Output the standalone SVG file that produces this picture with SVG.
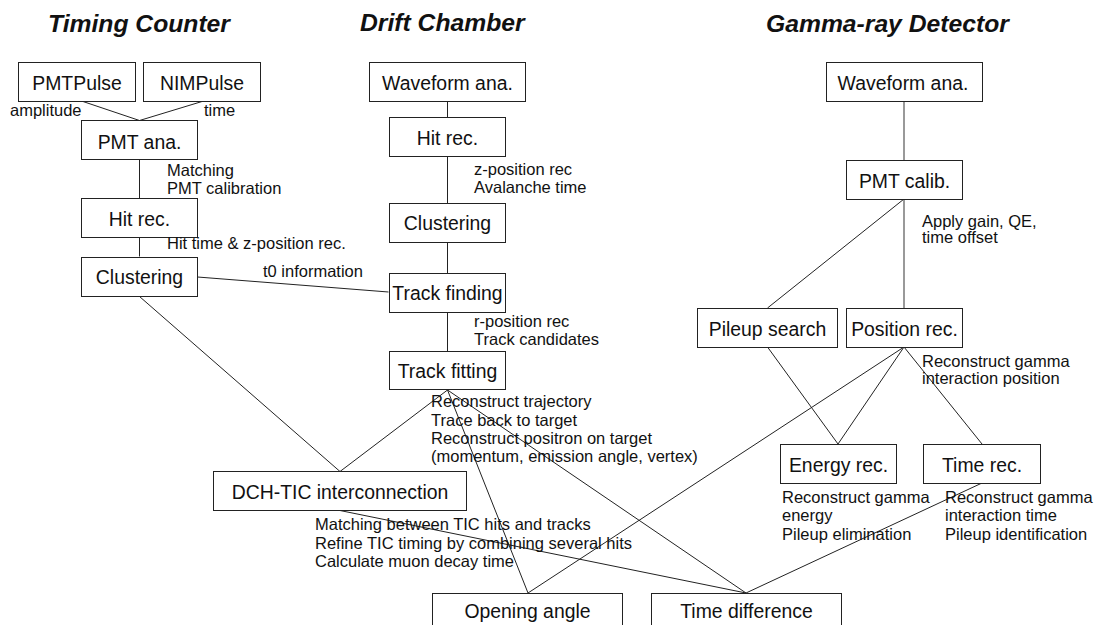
<svg xmlns="http://www.w3.org/2000/svg" width="1097" height="625" viewBox="0 0 1097 625">
  <style>
    .bg { fill: #ffffff; }
    .box { fill: #ffffff; stroke: #222222; stroke-width: 1; }
    .lbl { font-family: "Liberation Sans", Arial, sans-serif; font-size: 19.4px; fill: #111111; text-anchor: middle; }
    .note { font-family: "Liberation Sans", Arial, sans-serif; font-size: 16.5px; fill: #111111; }
    .title { font-family: "Liberation Sans", Arial, sans-serif; font-size: 24.7px; font-weight: bold; font-style: italic; fill: #111111; }
    .edge { stroke: #222222; stroke-width: 1; fill: none; }
    .edge-soft { stroke: #555555; stroke-width: 1.2; fill: none; }
  </style>
  <rect class="bg" x="0" y="0" width="1097" height="625"/>

  <!-- section headings -->
  <g id="titles">
    <text class="title" x="48" y="32">Timing Counter</text>
    <text class="title" x="360" y="31">Drift Chamber</text>
    <text class="title" x="766" y="32">Gamma-ray Detector</text>
  </g>

  <!-- connectors -->
  <g id="connectors">
    <line class="edge" x1="83" y1="101.5" x2="139.5" y2="120.5"/>
    <line class="edge" x1="202" y1="101.5" x2="139.5" y2="120.5"/>
    <line class="edge" x1="139.5" y1="159.5" x2="139.5" y2="198.5"/>
    <line class="edge" x1="139.5" y1="237.5" x2="139.5" y2="256.5"/>
    <line class="edge" x1="197.5" y1="277" x2="388.5" y2="292"/>
    <line class="edge" x1="139.5" y1="296.5" x2="340" y2="471.5"/>
    <line class="edge" x1="447.5" y1="101.5" x2="447.5" y2="117.5"/>
    <line class="edge" x1="447.5" y1="156.5" x2="447.5" y2="203.5"/>
    <line class="edge" x1="447.5" y1="242.5" x2="447.5" y2="273.5"/>
    <line class="edge" x1="447.5" y1="312.5" x2="447.5" y2="351.5"/>
    <line class="edge" x1="447.5" y1="390" x2="340" y2="471.5"/>
    <line class="edge" x1="447.5" y1="390" x2="528" y2="593"/>
    <line class="edge" x1="447.5" y1="390" x2="746" y2="593"/>
    <line class="edge" x1="340" y1="510.5" x2="746" y2="593"/>
    <line class="edge-soft" x1="904" y1="101.5" x2="904" y2="160"/>
    <line class="edge-soft" x1="904" y1="199" x2="904" y2="308"/>
    <line class="edge" x1="904" y1="199" x2="767.5" y2="308"/>
    <line class="edge" x1="767.5" y1="347" x2="838" y2="444"/>
    <line class="edge" x1="904" y1="347" x2="838" y2="444"/>
    <line class="edge" x1="904" y1="347" x2="982" y2="444"/>
    <line class="edge" x1="904" y1="347" x2="528" y2="593"/>
    <line class="edge" x1="982" y1="483" x2="746" y2="593"/>
  </g>

  <!-- Timing Counter chain -->
  <g id="tc-pmtpulse">
    <rect class="box" x="18.5" y="62.5" width="117" height="39"/>
    <text class="lbl" x="77" y="90">PMTPulse</text>
  </g>
  <g id="tc-nimpulse">
    <rect class="box" x="143.5" y="62.5" width="117" height="39"/>
    <text class="lbl" x="202" y="90">NIMPulse</text>
  </g>
  <g id="tc-pmt-ana">
    <rect class="box" x="81.5" y="120.5" width="116" height="39"/>
    <text class="lbl" x="139.5" y="149">PMT ana.</text>
  </g>
  <g id="tc-hit-rec">
    <rect class="box" x="81.5" y="198.5" width="116" height="39"/>
    <text class="lbl" x="139.5" y="226">Hit rec.</text>
  </g>
  <g id="tc-clustering">
    <rect class="box" x="81.5" y="257.5" width="116" height="39"/>
    <text class="lbl" x="139.5" y="284">Clustering</text>
  </g>

  <!-- Drift Chamber chain -->
  <g id="dc-waveform">
    <rect class="box" x="369.5" y="62.5" width="156" height="39"/>
    <text class="lbl" x="447.5" y="90">Waveform ana.</text>
  </g>
  <g id="dc-hit-rec">
    <rect class="box" x="389.5" y="117.5" width="116" height="39"/>
    <text class="lbl" x="447.5" y="145">Hit rec.</text>
  </g>
  <g id="dc-clustering">
    <rect class="box" x="389.5" y="203.5" width="116" height="39"/>
    <text class="lbl" x="447.5" y="230">Clustering</text>
  </g>
  <g id="dc-track-finding">
    <rect class="box" x="389.5" y="273.5" width="116" height="39"/>
    <text class="lbl" x="447.5" y="300">Track finding</text>
  </g>
  <g id="dc-track-fitting">
    <rect class="box" x="389.5" y="351.5" width="116" height="38"/>
    <text class="lbl" x="447.5" y="378">Track fitting</text>
  </g>
  <g id="dch-tic">
    <rect class="box" x="213.5" y="471.5" width="253" height="39"/>
    <text class="lbl" x="340" y="499">DCH-TIC interconnection</text>
  </g>

  <!-- Gamma-ray Detector chain -->
  <g id="gd-waveform">
    <rect class="box" x="826.5" y="62.5" width="156" height="39"/>
    <text class="lbl" x="903" y="90">Waveform ana.</text>
  </g>
  <g id="gd-pmt-calib">
    <rect class="box" x="846.5" y="160.5" width="116" height="39"/>
    <text class="lbl" x="904.5" y="188">PMT calib.</text>
  </g>
  <g id="gd-pileup">
    <rect class="box" x="697.5" y="308.5" width="140" height="39"/>
    <text class="lbl" x="767.5" y="336">Pileup search</text>
  </g>
  <g id="gd-position">
    <rect class="box" x="846.5" y="308.5" width="116" height="39"/>
    <text class="lbl" x="904.5" y="336">Position rec.</text>
  </g>
  <g id="gd-energy">
    <rect class="box" x="780.5" y="444.5" width="116" height="39"/>
    <text class="lbl" x="838.5" y="472">Energy rec.</text>
  </g>
  <g id="gd-time">
    <rect class="box" x="923.5" y="444.5" width="117" height="39"/>
    <text class="lbl" x="982" y="472">Time rec.</text>
  </g>

  <!-- combined observables -->
  <g id="opening-angle">
    <rect class="box" x="432.5" y="593.5" width="190" height="40"/>
    <text class="lbl" x="527.5" y="618">Opening angle</text>
  </g>
  <g id="time-difference">
    <rect class="box" x="651.5" y="593.5" width="190" height="40"/>
    <text class="lbl" x="746.5" y="618">Time difference</text>
  </g>

  <!-- step annotations -->
  <g id="notes">
    <text class="note" x="10" y="116">amplitude</text>
    <text class="note" x="204" y="116">time</text>
    <text class="note" x="167" y="176">Matching</text>
    <text class="note" x="167" y="194">PMT calibration</text>
    <text class="note" x="167" y="249">Hit time &amp; z-position rec.</text>
    <text class="note" x="263" y="277">t0 information</text>

    <text class="note" x="474" y="175">z-position rec</text>
    <text class="note" x="474" y="193">Avalanche time</text>
    <text class="note" x="474" y="327">r-position rec</text>
    <text class="note" x="474" y="345">Track candidates</text>
    <text class="note" x="431" y="407">Reconstruct trajectory</text>
    <text class="note" x="431" y="426">Trace back to target</text>
    <text class="note" x="431" y="444">Reconstruct positron on target</text>
    <text class="note" x="431" y="462">(momentum, emission angle, vertex)</text>
    <text class="note" x="315" y="530">Matching between TIC hits and tracks</text>
    <text class="note" x="315" y="549">Refine TIC timing by combining several hits</text>
    <text class="note" x="315" y="567">Calculate muon decay time</text>

    <text class="note" x="922" y="227">Apply gain, QE,</text>
    <text class="note" x="922" y="243">time offset</text>
    <text class="note" x="922" y="367">Reconstruct gamma</text>
    <text class="note" x="922" y="384">interaction position</text>
    <text class="note" x="782" y="503">Reconstruct gamma</text>
    <text class="note" x="782" y="521">energy</text>
    <text class="note" x="782" y="540">Pileup elimination</text>
    <text class="note" x="945" y="503">Reconstruct gamma</text>
    <text class="note" x="945" y="521">interaction time</text>
    <text class="note" x="945" y="540">Pileup identification</text>
  </g>
</svg>
